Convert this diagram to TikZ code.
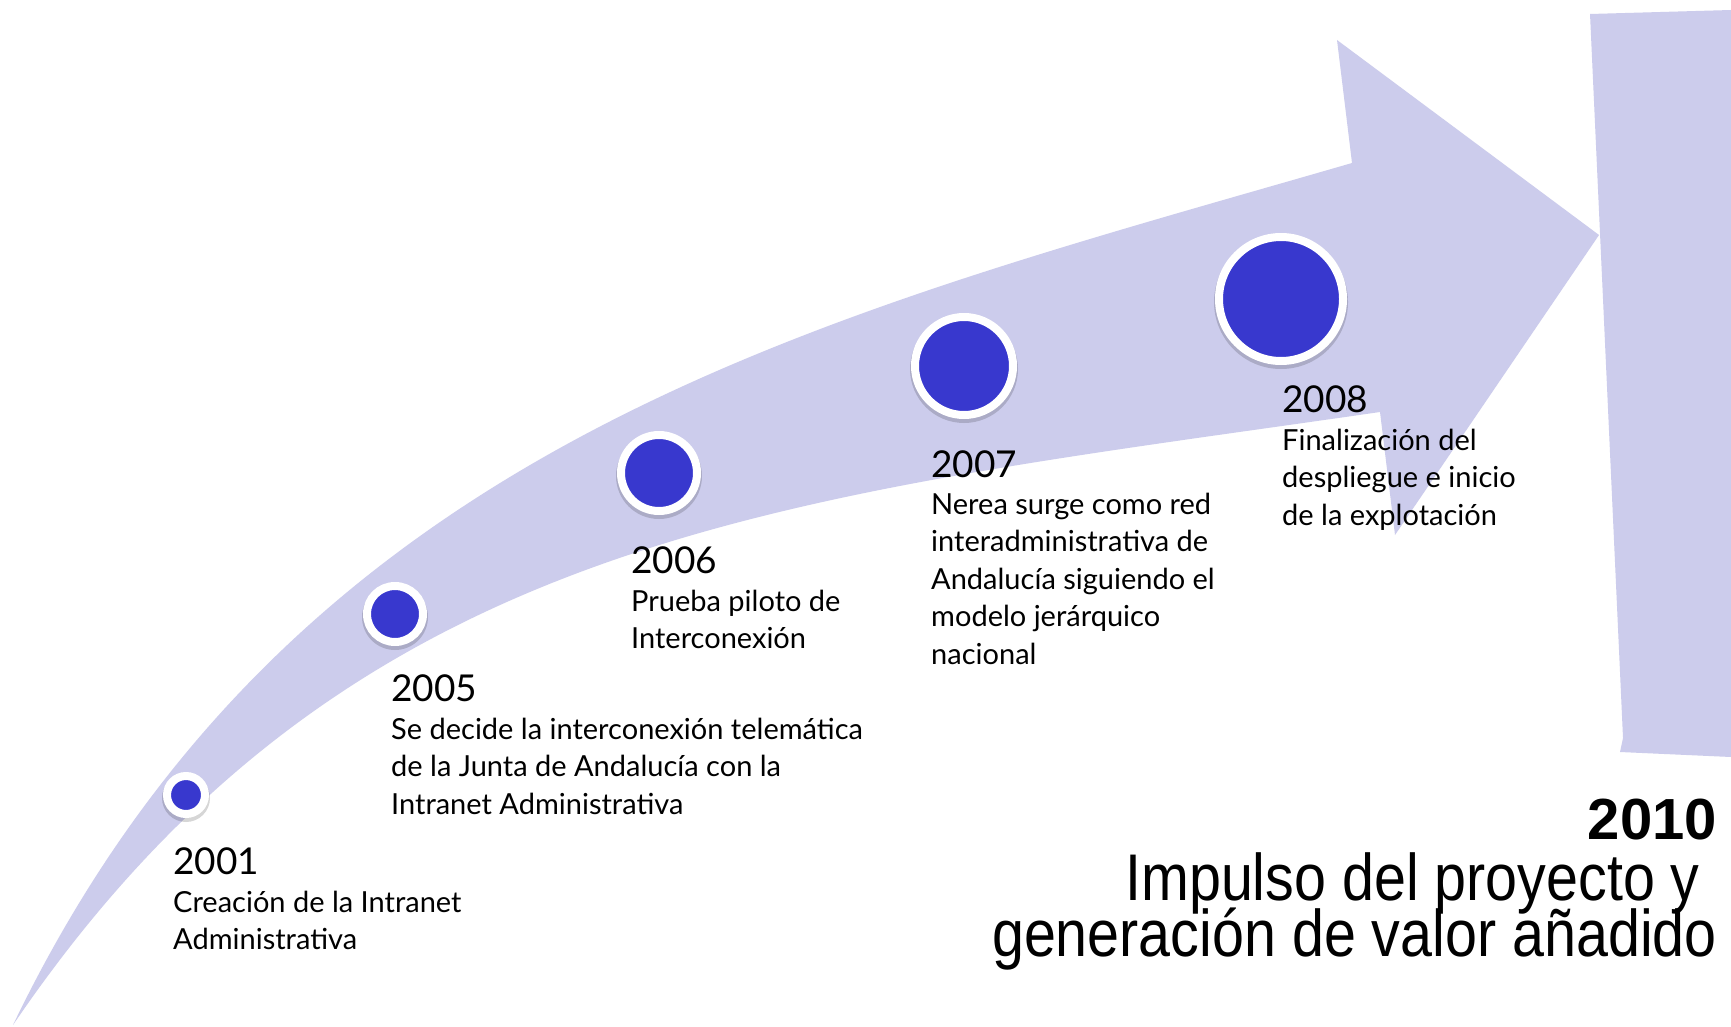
\documentclass[tikz,border=0pt]{standalone}
\usepackage{fontspec}
\setmainfont{Lato}
\newfontfamily\captionfont[FakeStretch=0.87]{Liberation Sans}
\newfontfamily\bigyearfont{Liberation Sans}
\definecolor{band}{RGB}{204,204,236}
\definecolor{dotblue}{RGB}{56,56,206}
\begin{document}
\begin{tikzpicture}[x=1pt,y=-1pt,
  dot/.style={circle, fill=dotblue, draw=white, line width=8pt, inner sep=0pt},
  year/.style={anchor=base west, inner sep=0pt, font=\fontsize{37}{44}\selectfont},
  desc/.style={anchor=base west, inner sep=0pt, font=\fontsize{29}{37.5}\selectfont},
  final/.style={anchor=base east, inner sep=0pt, font=\captionfont\fontsize{66}{70}\selectfont},
  finalyear/.style={anchor=base east, inner sep=0pt, font=\bigyearfont\bfseries\fontsize{58}{60}\selectfont}]
\useasboundingbox (0,0) rectangle (1731,1027);
\fill[white] (0,0) rectangle (1731,1027);
% curved arrow band
\fill[band] (13,1025) .. controls (295,439) and (824,316) .. (1352,163)
 -- (1337,40) -- (1599,235) -- (1395,535) -- (1380,412)
 .. controls (786,498) and (350,529) .. (13,1025) -- cycle;
% right bar
\fill[band] (1590,14) -- (1731,10) -- (1731,757) -- (1620,752) -- (1623,738) -- cycle;
% milestone dots
\foreach \n/\cx/\cy/\r in {2001/186/795/23, 2005/395/614/32, 2006/659/473/42, 2007/964/366/53, 2008/1281/299/66} {
  \fill[black, opacity=0.16] (\cx,{\cy+3}) circle[radius={\r+1}];
  \node[dot, minimum size={2*\r*1pt-8pt}] (c\n) at (\cx,\cy) {};
}
% texts
\node[year] (y2001) at (173,874) {2001};
\node[desc] (d2001) at (173,912) {\begin{tabular}[t]{@{}l@{}}Creación de la Intranet\\ Administrativa\end{tabular}};
\node[year] (y2005) at (391,701) {2005};
\node[desc] (d2005) at (391,739) {\begin{tabular}[t]{@{}l@{}}Se decide la interconexión telemática\\ de la Junta de Andalucía con la\\ Intranet Administrativa\end{tabular}};
\node[year] (y2006) at (631,573) {2006};
\node[desc] (d2006) at (631,611) {\begin{tabular}[t]{@{}l@{}}Prueba piloto de\\ Interconexión\end{tabular}};
\node[year] (y2007) at (931,477) {2007};
\node[desc] (d2007) at (931,514) {\begin{tabular}[t]{@{}l@{}}Nerea surge como red\\ interadministrativa de\\ Andalucía siguiendo el\\ modelo jerárquico\\ nacional\end{tabular}};
\node[year] (y2008) at (1282,412) {2008};
\node[desc] (d2008) at (1282,450) {\begin{tabular}[t]{@{}l@{}}Finalización del\\ despliegue e inicio\\ de la explotación\end{tabular}};
\node[finalyear] (y2010) at (1717,839) {2010};
\node[final] (f1) at (1700,900) {Impulso del proyecto y};
\node[final] (f2) at (1717,956) {generación de valor añadido};
\end{tikzpicture}
\end{document}
